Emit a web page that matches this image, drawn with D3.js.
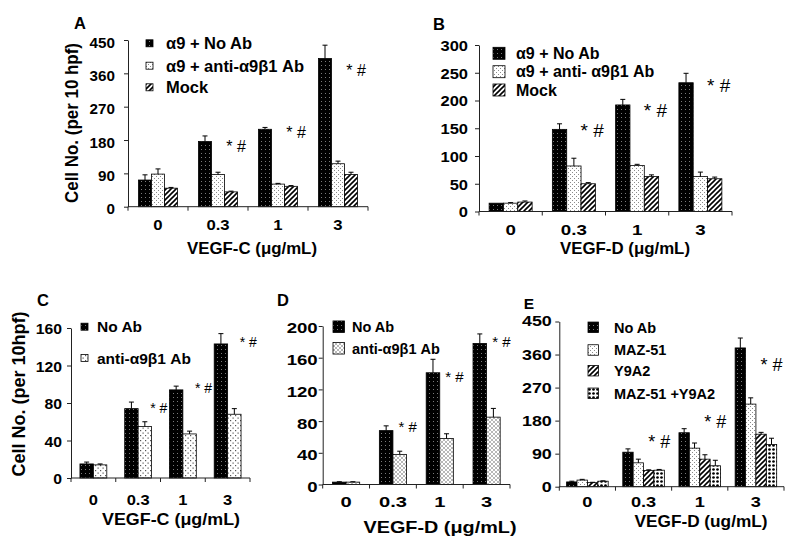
<!DOCTYPE html>
<html><head><meta charset="utf-8">
<script src="https://cdn.jsdelivr.net/npm/d3@7"></script>
<style>
body{margin:0;background:#fff}
svg{display:block}
text{font-family:"Liberation Sans",Arial,Helvetica,sans-serif;font-weight:bold;fill:#000}
</style>
</head><body>
<svg id="chart" width="800" height="541"></svg>
<script>
// ---------- DATA ----------
const categories = ["0", "0.3", "1", "3"];

// Panel A : VEGF-C
const aNoAb = [72, 176, 209, 400];
const aNoAbErr = [14, 15, 5, 36];
const aAnti = [88, 87, 61, 116];
const aAntiErr = [14, 6, 2, 7];
const aMock = [50, 40, 55, 87];
const aMockErr = [2, 2, 2, 6];
const aTicks = [0, 90, 180, 270, 360, 450];
const aSig = [null, 163, 201, 368];

// Panel B : VEGF-D
const bNoAb = [15, 148, 192, 232];
const bNoAbErr = [0, 10, 10, 17];
const bAnti = [15, 82, 83, 63];
const bAntiErr = [1, 14, 2, 8];
const bMock = [17, 50, 63, 59];
const bMockErr = [2, 2, 3, 3];
const bTicks = [0, 50, 100, 150, 200, 250, 300];
const bSig = [null, 147, 183, 228];

// Panel C : VEGF-C
const cNoAb = [15, 74, 94, 143];
const cNoAbErr = [2, 7, 4, 11];
const cAnti = [14, 55, 47, 68];
const cAntiErr = [1, 5, 3, 6];
const cTicks = [0, 40, 80, 120, 160];
const cSig = [null, 75, 96, 145];

// Panel D : VEGF-D
const dNoAb = [3, 68, 141, 178];
const dNoAbErr = [0.5, 6, 17, 12];
const dAnti = [3, 38, 58, 85];
const dAntiErr = [0.5, 4, 6, 11];
const dTicks = [0, 40, 80, 120, 160, 200];
const dSig = [null, 73, 136, 180];

// Panel E : VEGF-D
const eNoAb = [13, 94, 147, 378];
const eNoAbErr = [2, 9, 11, 27];
const eMaz = [18, 65, 105, 225];
const eMazErr = [2, 10, 14, 17];
const eY9 = [11, 44, 75, 143];
const eY9Err = [1, 2, 12, 5];
const eBoth = [15, 45, 57, 115];
const eBothErr = [1, 2, 15, 17];
const eTicks = [0, 90, 180, 270, 360, 450];
const eSig = [null, 123, 177, 332];

const sigLabel = "* #";

// ---------- LAYOUT / STYLE ----------
const svg = d3.select("#chart");
const defs = svg.append("defs");
function makePattern(id, w, h, draw) {
  const p = defs.append("pattern").attr("id", id)
    .attr("patternUnits", "userSpaceOnUse").attr("width", w).attr("height", h);
  draw(p);
}
makePattern("pBlack", 4, 4, p => {
  p.append("rect").attr("width", 4).attr("height", 4).attr("fill", "#000");
  p.append("rect").attr("x", 1).attr("y", 1).attr("width", 1).attr("height", 1).attr("fill", "#7a7a7a");
});
makePattern("pDots", 4, 4, p => {
  p.append("rect").attr("width", 4).attr("height", 4).attr("fill", "#fff");
  p.append("rect").attr("x", 0).attr("y", 0).attr("width", 1).attr("height", 1).attr("fill", "#8a8a8a");
  p.append("rect").attr("x", 2).attr("y", 2).attr("width", 1).attr("height", 1).attr("fill", "#8a8a8a");
});
makePattern("pDotsC", 5, 5, p => {
  p.append("rect").attr("width", 5).attr("height", 5).attr("fill", "#fff");
  p.append("rect").attr("x", 0).attr("y", 0).attr("width", 1.2).attr("height", 1.2).attr("fill", "#555");
  p.append("rect").attr("x", 2.5).attr("y", 2.5).attr("width", 1.2).attr("height", 1.2).attr("fill", "#555");
});
makePattern("pCross", 4, 4, p => {
  p.append("rect").attr("width", 4).attr("height", 4).attr("fill", "#fff");
  p.append("path").attr("d", "M0,0L4,4M4,0L0,4").attr("stroke", "#9a9a9a").attr("stroke-width", 0.7);
});
makePattern("pHatch", 5, 5, p => {
  p.append("rect").attr("width", 5).attr("height", 5).attr("fill", "#fff");
  p.append("path").attr("d", "M-1,1L1,-1M0,5L5,0M4,6L6,4").attr("stroke", "#000").attr("stroke-width", 1.6);
});
makePattern("pChecker", 4, 4, p => {
  p.append("rect").attr("width", 4).attr("height", 4).attr("fill", "#fff");
  p.append("circle").attr("cx", 1.5).attr("cy", 1.5).attr("r", 1.35).attr("fill", "#000");
});

const panels = [
  {
    label: "A", labelPos: [80, 23],
    series: [
      {name: "α9 + No Ab", values: aNoAb, err: aNoAbErr, pat: "pBlack"},
      {name: "α9 + anti-α9β1 Ab", values: aAnti, err: aAntiErr, pat: "pDots"},
      {name: "Mock", values: aMock, err: aMockErr, pat: "pHatch"}
    ],
    ticks: aTicks, sig: aSig, sigDx: 5, sigSize: 16,
    left: 128, right: 368, y0: 206.7, yTop: 40, groupFrac: 0.65,
    tickFont: 14.5, tickSx: 1.05, yGap: 13, yLabDy: 2.5, xLabY: 225, xSx: 1.15,
    yTitle: "Cell No. (per 10 hpf)", yTitlePos: [72, 123], yTitleLen: 160,
    xTitle: "VEGF-C (μg/mL)", xTitlePos: [252, 248], xTitleLen: 130,
    leg: {sx: 146, size: 7, tx: 166, rows: [43.3, 65.7, 87.3], font: 16.5}
  },
  {
    label: "B", labelPos: [439, 24],
    series: [
      {name: "α9 + No Ab", values: bNoAb, err: bNoAbErr, pat: "pBlack"},
      {name: "α9 + anti- α9β1 Ab", values: bAnti, err: bAntiErr, pat: "pDots"},
      {name: "Mock", values: bMock, err: bMockErr, pat: "pHatch"}
    ],
    ticks: bTicks, sig: bSig, sigDx: 4, sigSize: 19,
    left: 479, right: 732, y0: 211.5, yTop: 45, groupFrac: 0.68,
    tickFont: 15, tickSx: 1.1, yGap: 11, yLabDy: 0.5, xLabY: 230, xSx: 1.25,
    yTitle: null,
    xTitle: "VEGF-D (μg/mL)", xTitlePos: [625, 248], xTitleLen: 130,
    leg: {sx: 493, size: 12, tx: 516, rows: [53.3, 71.7, 90], font: 16}
  },
  {
    label: "C", labelPos: [43, 300],
    series: [
      {name: "No Ab", values: cNoAb, err: cNoAbErr, pat: "pBlack"},
      {name: "anti-α9β1 Ab", values: cAnti, err: cAntiErr, pat: "pDotsC"}
    ],
    ticks: cTicks, sig: cSig, sigDx: 14, sigSize: 14,
    left: 71, right: 250, y0: 478, yTop: 328, groupFrac: 0.6,
    tickFont: 15, tickSx: 1.05, yGap: 9, yLabDy: 1, xLabY: 500, xSx: 1.1,
    yTitle: "Cell No. (per 10hpf)", yTitlePos: [19, 394], yTitleLen: 165,
    xTitle: "VEGF-C (μg/mL)", xTitlePos: [171, 519], xTitleLen: 138,
    leg: {sx: 81, size: 7, tx: 97, rows: [326.7, 358], font: 15.5}
  },
  {
    label: "D", labelPos: [283, 300],
    series: [
      {name: "No Ab", values: dNoAb, err: dNoAbErr, pat: "pBlack"},
      {name: "anti-α9β1 Ab", values: dAnti, err: dAntiErr, pat: "pCross"}
    ],
    ticks: dTicks, sig: dSig, sigDx: 8, sigSize: 15,
    left: 322.7, right: 510, y0: 484.5, yTop: 326, groupFrac: 0.58,
    tickFont: 15.5, tickSx: 1.2, yGap: 5, yLabDy: 2, xLabY: 502, xSx: 1.3,
    yTitle: null,
    xTitle: "VEGF-D (μg/mL)", xTitlePos: [440, 527], xTitleLen: 153,
    leg: {sx: 333, size: 11.5, tx: 352, rows: [326.7, 348.3], font: 14.5}
  },
  {
    label: "E", labelPos: [529, 303.5], labelFont: 15.5,
    series: [
      {name: "No Ab", values: eNoAb, err: eNoAbErr, pat: "pBlack"},
      {name: "MAZ-51", values: eMaz, err: eMazErr, pat: "pDots"},
      {name: "Y9A2", values: eY9, err: eY9Err, pat: "pHatch"},
      {name: "MAZ-51 +Y9A2", values: eBoth, err: eBothErr, pat: "pChecker"}
    ],
    ticks: eTicks, sig: eSig, sigDx: 0, sigSize: 18,
    left: 559.3, right: 784, y0: 486.7, yTop: 321.5, groupFrac: 0.74,
    tickFont: 14, tickSx: 1.28, yGap: 7.5, yLabDy: 0, xLabY: 502, xSx: 1.3,
    yTitle: null,
    xTitle: "VEGF-D (ug/mL)", xTitlePos: [701, 521], xTitleLen: 133,
    leg: {sx: 588, size: 10.5, tx: 614, rows: [327.3, 350, 370.7, 393.3], font: 14.5}
  }
];

function drawPanel(P) {
  const g = svg.append("g");
  const yMax = d3.max(P.ticks);
  const y = d3.scaleLinear().domain([0, yMax]).range([P.y0, P.yTop]);
  const x0 = d3.scaleBand().domain(categories).range([P.left, P.right]).padding(0);
  const bw = x0.bandwidth();
  const gw = bw * P.groupFrac;
  const x1 = d3.scaleBand().domain(d3.range(P.series.length)).range([0, gw]);
  const off = (bw - gw) / 2;

  // bars
  P.series.forEach((s, i) => {
    const gs = g.append("g");
    gs.selectAll("rect").data(categories).join("rect")
      .attr("x", c => x0(c) + off + x1(i))
      .attr("width", x1.bandwidth())
      .attr("y", (c, j) => y(s.values[j]))
      .attr("height", (c, j) => P.y0 - y(s.values[j]))
      .attr("fill", `url(#${s.pat})`)
      .attr("stroke", "#000").attr("stroke-width", 0.8);
    const eb = g.append("g").attr("stroke", "#000").attr("stroke-width", 1).attr("fill", "none");
    eb.selectAll("path").data(categories.filter((c, j) => s.err[j] > 0)).join("path")
      .attr("d", c => {
        const j = categories.indexOf(c);
        const cx = x0(c) + off + x1(i) + x1.bandwidth() / 2;
        const t = y(s.values[j] + s.err[j]);
        return `M${cx},${y(s.values[j])}V${t}M${cx - 2.5},${t}H${cx + 2.5}`;
      });
  });

  // y axis
  const ya = g.append("g").attr("transform", `translate(${P.left},0)`)
    .call(d3.axisLeft(y).tickValues(P.ticks).tickSize(4).tickSizeOuter(0).tickFormat(d3.format("d")));
  ya.select(".domain").attr("stroke", "#222");
  ya.selectAll(".tick line").attr("stroke", "#222");
  ya.selectAll("text")
    .attr("font-size", P.tickFont)
    .attr("font-family", null)
    .attr("x", -P.yGap / P.tickSx)
    .attr("y", P.yLabDy)
    .attr("transform", `scale(${P.tickSx},1)`);

  // x axis line + boundary ticks
  const xa = g.append("g");
  xa.append("line").attr("x1", P.left).attr("x2", P.right).attr("y1", P.y0).attr("y2", P.y0).attr("stroke", "#222");
  const bounds = [P.left].concat(categories.map(c => x0(c) + bw));
  xa.selectAll("line.t").data(bounds).join("line").attr("class", "t")
    .attr("x1", d => d).attr("x2", d => d).attr("y1", P.y0).attr("y2", P.y0 + 4).attr("stroke", "#222");
  xa.selectAll("text").data(categories).join("text")
    .attr("transform", c => `translate(${x0(c) + bw / 2},${P.xLabY}) scale(${P.xSx},1)`)
    .attr("text-anchor", "middle").attr("dy", "0.35em")
    .attr("font-size", P.tickFont).text(c => c);

  // significance marks
  const last = P.series.length - 1;
  g.append("g").selectAll("text").data(categories.filter((c, j) => P.sig[j] != null)).join("text")
    .attr("x", c => x0(c) + off + x1(last) + x1.bandwidth() / 2 + P.sigDx)
    .attr("y", c => y(P.sig[categories.indexOf(c)]))
    .attr("dy", "0.35em").attr("text-anchor", "middle")
    .style("font-weight", "normal").attr("font-size", P.sigSize)
    .text(sigLabel);

  // legend
  const L = P.leg;
  const lg = g.append("g");
  lg.selectAll("rect").data(P.series).join("rect")
    .attr("x", L.sx).attr("y", (s, i) => L.rows[i] - L.size / 2)
    .attr("width", L.size).attr("height", L.size)
    .attr("fill", s => `url(#${s.pat})`).attr("stroke", "#000").attr("stroke-width", 0.8);
  lg.selectAll("text").data(P.series).join("text")
    .attr("x", L.tx).attr("y", (s, i) => L.rows[i]).attr("dy", "0.36em")
    .attr("font-size", L.font).text(s => s.name);

  // titles
  g.append("text").attr("x", P.labelPos[0]).attr("y", P.labelPos[1]).attr("dy", "0.36em")
    .attr("text-anchor", "middle").attr("font-size", P.labelFont || 16.5).text(P.label);
  if (P.yTitle) {
    g.append("text")
      .attr("transform", `translate(${P.yTitlePos[0]},${P.yTitlePos[1]}) rotate(-90)`)
      .attr("text-anchor", "middle").attr("dy", "0.36em")
      .attr("font-size", 17.5)
      .attr("textLength", P.yTitleLen).attr("lengthAdjust", "spacingAndGlyphs")
      .text(P.yTitle);
  }
  g.append("text").attr("x", P.xTitlePos[0]).attr("y", P.xTitlePos[1]).attr("dy", "0.36em")
    .attr("text-anchor", "middle").attr("font-size", 17)
    .attr("textLength", P.xTitleLen).attr("lengthAdjust", "spacingAndGlyphs")
    .text(P.xTitle);
}

panels.forEach(drawPanel);
</script>
</body></html>
